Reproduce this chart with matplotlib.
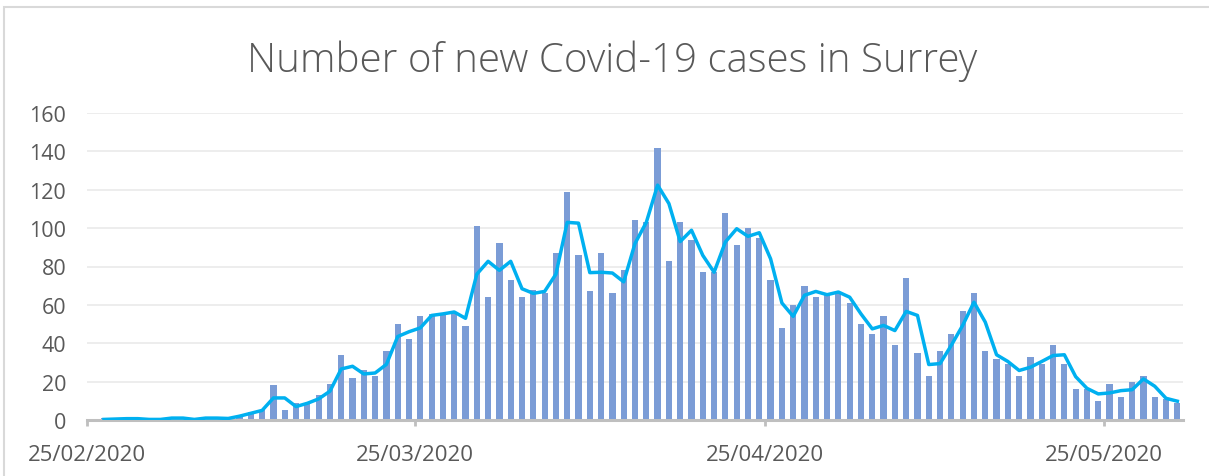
import matplotlib
matplotlib.use("Agg")
import matplotlib.pyplot as plt
import matplotlib.dates as mdates
from matplotlib.patches import Rectangle
import pandas as pd
import numpy as np

# daily new cases, 25/02/2020 .. 31/05/2020
dates = pd.date_range("2020-02-25", "2020-05-31", freq="D")
new_cases = [0, 1, 0, 1, 0, 0, 0, 1, 1, 0, 1, 1, 1, 2, 4,
             5, 18, 5, 9, 9, 13, 19, 34, 22, 26, 23, 36, 50, 42, 54,
             55, 55, 56, 49, 101, 64, 92, 73, 64, 68, 66, 87, 119, 86, 67,
             87, 66, 78, 104, 103, 142, 83, 103, 94, 77, 77, 108, 91, 100, 95,
             73, 48, 60, 70, 64, 65, 66, 61, 50, 45, 54, 39, 74, 35, 23,
             36, 45, 57, 66, 36, 32, 29, 23, 33, 29, 39, 29, 16, 16, 10,
             19, 12, 20, 23, 12, 11, 9]

# smoothed line as drawn in the chart (starts 26/02)
smoothed = [np.nan, 0.3, 0.5, 0.7, 0.7, 0.3, 0.3, 1, 1, 0.3, 1, 1, 0.8, 2, 3.5,
            5, 11.5, 11.5, 7, 8.7, 11, 15, 26.6, 28, 24, 24.5, 29, 43.5, 46, 48,
            54.5, 55.3, 56.3, 53, 76, 82.7, 78, 82.7, 68.4, 66, 67, 76, 103, 102.6, 76.8,
            77, 76.6, 72, 92, 103, 122.4, 112.8, 93, 98.9, 85.8, 77, 92.8, 99.7, 95.7, 97.6,
            84, 61, 54, 65, 67, 65.3, 66.7, 64, 55.3, 47.5, 49.3, 46.6, 56.6, 54.5, 28.9,
            29.4, 39, 49.3, 61.4, 51, 34, 30.5, 25.8, 27.5, 30.5, 33.6, 34, 22.6, 16.5, 13.6,
            14.1, 15.3, 15.8, 21.4, 17.6, 11.3, 9.8]

tick_dates = ["2020-02-25", "2020-03-25", "2020-04-25", "2020-05-25"]
title = "Number of new Covid-19 cases in Surrey"

plt.rcParams['font.family'] = ['Open Sans', 'DejaVu Sans']
txt = '#595959'

fig = plt.figure(figsize=(12.09, 4.77), dpi=100)
ax = fig.add_axes([87/1209, 1-421/477, (1183-87)/1209, (421-114)/477])

x = mdates.date2num(dates) + 0.5   # Excel puts each day between its ticks
ax.bar(x, new_cases, width=0.55, color='#7B9CD6', zorder=2)
ax.plot(x, smoothed, color='#00B0F0', lw=2.5, zorder=3, solid_joinstyle='round')

ax.set_xlim(mdates.date2num(dates[0]), mdates.date2num(dates[-1]) + 1)
ax.set_ylim(0, 160)
ax.set_yticks(range(0, 161, 20))
ax.set_xticks(mdates.date2num(pd.to_datetime(tick_dates)))
ax.xaxis.set_major_formatter(mdates.DateFormatter('%d/%m/%Y'))

ax.grid(axis='y', color='#ececec', lw=1.3, zorder=0)
for s in ['top', 'right', 'left']:
    ax.spines[s].set_visible(False)
ax.spines['bottom'].set_color('#bfbfbf')
ax.spines['bottom'].set_linewidth(2.2)
ax.tick_params(axis='y', length=0, pad=15, labelsize=15.5, labelcolor=txt)
ax.tick_params(axis='x', length=4, width=2, color='#bfbfbf', pad=13,
               labelsize=16, labelcolor=txt)

fig.text(0.506, 1-72/477, title, ha='center', va='baseline', fontsize=29,
         color=txt, fontweight='light')

# chart area border (left and top visible)
fig.add_artist(Rectangle((4/1209, -0.1), 1.2, 1.1-8/477, transform=fig.transFigure,
                         fill=False, edgecolor='#d9d9d9', lw=1.5))

fig.savefig('out.png', dpi=100)
